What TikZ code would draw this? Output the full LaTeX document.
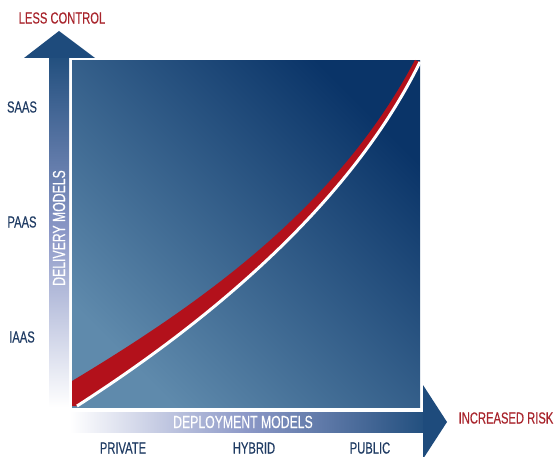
\documentclass[tikz,border=0pt]{standalone}
\usepackage{fontspec}
\setmainfont{Liberation Sans}[FakeStretch=0.7, FakeBold=0.3]

\definecolor{boxdark}{HTML}{0A3468}
\definecolor{boxlight}{HTML}{5F8AAC}
\definecolor{bardark}{HTML}{23507F}
\definecolor{barmid}{HTML}{8C98C7}
\definecolor{headblue}{HTML}{1E4B7C}
\definecolor{bandred}{HTML}{B3111B}
\definecolor{riskred}{HTML}{A8242C}
\definecolor{labelblue}{HTML}{1F3B63}

\begin{document}
\begin{tikzpicture}[x=1pt, y=1pt, >=latex,
  lbl/.style={text=labelblue, font=\fontsize{16}{18}\selectfont},
  warn/.style={text=riskred, font=\fontsize{16}{18}\selectfont},
  onbar/.style={text=white, font=\fontsize{17.5}{19}\selectfont}]
\useasboundingbox (0,0) rectangle (557,456);
% square
\shade[top color=boxdark, bottom color=boxlight, shading angle=-45] (72,49) rectangle (420,395);
% red band with white edge
\fill[bandred] (72,75) .. controls (212,159) and (340,254) .. (415,396) -- (420,394) .. controls (352,256) and (217,140) .. (77,50) -- (72,50) -- cycle;
\draw[white, line width=3pt] (77,50) .. controls (217,140) and (352,256) .. (420,394);
% vertical arrow
\shade[top color=bardark, bottom color=white, middle color=barmid] (49,49) rectangle (69,398);
\fill[headblue] (24,398) -- (59,425) -- (95,398) -- cycle;
% horizontal arrow
\shade[left color=white, right color=bardark, middle color=barmid] (70,24) rectangle (423,44);
\fill[headblue] (423,71) -- (447,34) -- (423,-3) -- cycle;
\node[warn] (less) at (62,438) {LESS CONTROL};
\node[lbl] (saas) at (22,349) {SAAS};
\node[lbl] (paas) at (22,234) {PAAS};
\node[lbl] (iaas) at (22,119) {IAAS};
\node[onbar, rotate=90] (delivery) at (59,228) {DELIVERY MODELS};
\node[onbar] (deployment) at (243,34) {DEPLOYMENT MODELS};
\node[lbl] (private) at (123,8) {PRIVATE};
\node[lbl] (hybrid) at (254,8) {HYBRID};
\node[lbl] (public) at (370,8) {PUBLIC};
\node[warn] (risk) at (506,38) {INCREASED RISK};
\end{tikzpicture}
\end{document}
